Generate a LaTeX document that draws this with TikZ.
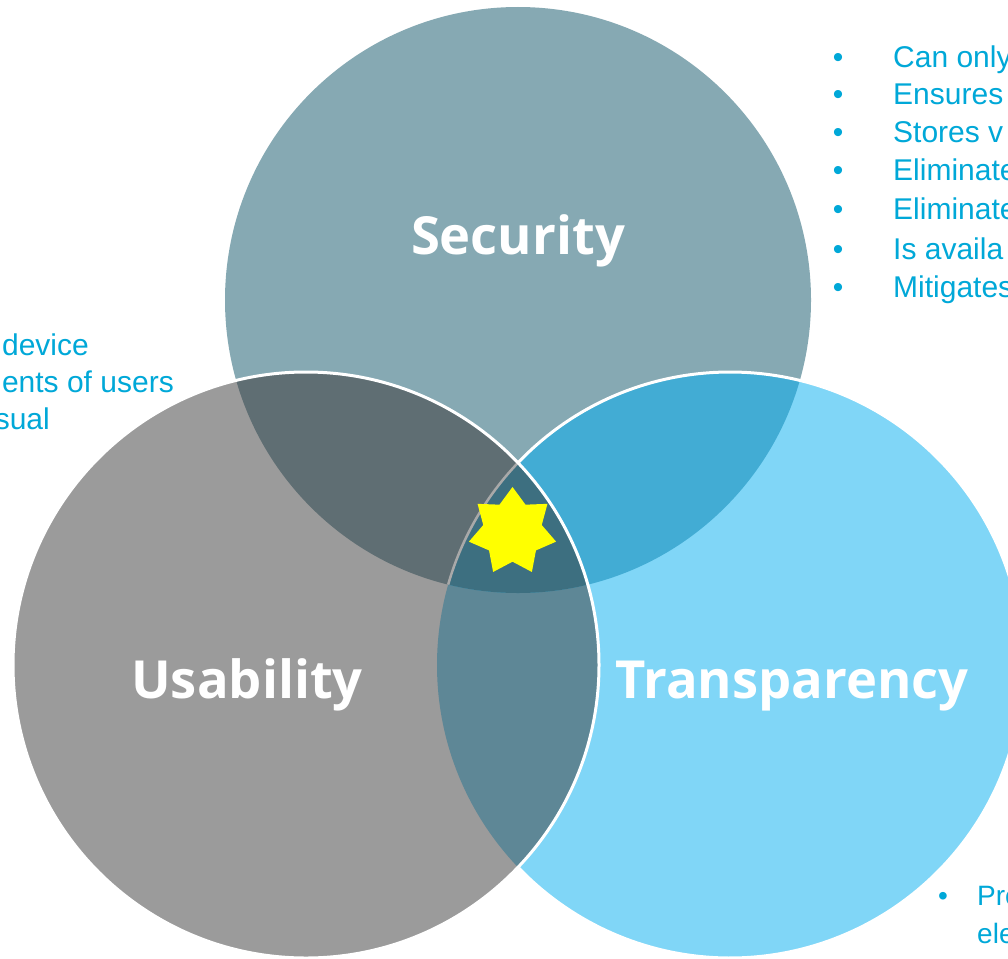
\documentclass[tikz,border=0pt]{standalone}
\usepackage{fontspec}
\setmainfont{Liberation Sans}
\newfontfamily\lblfont{Open Sans}
\definecolor{cS}{HTML}{86A9B3}
\definecolor{cU}{HTML}{9B9B9B}
\definecolor{cT}{HTML}{80D6F7}
\definecolor{cSU}{HTML}{5F6E73}
\definecolor{cST}{HTML}{42ACD4}
\definecolor{cUT}{HTML}{5E8796}
\definecolor{cSUT}{HTML}{3D6F80}
\definecolor{cEdge}{HTML}{A9A9A9}
\definecolor{txt}{HTML}{00A8D8}
\definecolor{starc}{HTML}{FFFF00}
\tikzset{
  lbl/.style={inner sep=0pt, anchor=base, text=white, font=\lblfont\bfseries\fontsize{52.5}{58}\selectfont},
  itemtext/.style={inner sep=0pt, anchor=base west, text=txt, font=\fontsize{30}{36}\selectfont},
  lefttext/.style={inner sep=0pt, anchor=base east, text=txt, font=\fontsize{30}{36}\selectfont},
  smalltext/.style={inner sep=0pt, anchor=base west, text=txt, font=\fontsize{28}{32}\selectfont},
  bul/.style={inner sep=0pt, anchor=base, text=txt, font=\fontsize{30}{36}\selectfont},
  smallbul/.style={inner sep=0pt, anchor=base, text=txt, font=\fontsize{28}{32}\selectfont},
  outline/.style={draw=white, line width=3pt}
}
\begin{document}
\begin{tikzpicture}[x=1pt,y=-1pt]
\useasboundingbox (0,0) rectangle (1008,958);
\clip (0,0) rectangle (1008,958);
\fill[white] (0,0) rectangle (1008,958);
\def\R{293}
\coordinate (cs) at (518,300);
\coordinate (cu) at (306,665);
\coordinate (ct) at (730,665);
% base circles
\fill[cS] (cs) circle[radius=\R];
\fill[cT] (ct) circle[radius=\R];
\fill[cU] (cu) circle[radius=\R];
% pairwise U & T
\begin{scope}
  \clip (cu) circle[radius=\R];
  \fill[cUT] (ct) circle[radius=\R];
\end{scope}
% overlaps with Security
\begin{scope}
  \clip (cs) circle[radius=\R];
  \fill[cSU] (cu) circle[radius=\R];
  \fill[cST] (ct) circle[radius=\R];
  \clip (cu) circle[radius=\R];
  \fill[cSUT] (ct) circle[radius=\R];
\end{scope}
% outlines
\draw[outline] ([shift={(-136.4:\R)}]ct) arc[start angle=-136.4, end angle=136.4, radius=\R];
\begin{scope}
  \clip (cs) circle[radius=\R];
  \clip (cu) circle[radius=\R];
  \draw[draw=cEdge, line width=2.5pt] (ct) circle[radius=\R];
\end{scope}
\draw[outline] (cu) circle[radius=\R];
% star
\fill[starc] plot[samples at={0,...,13}, variable=\k]
  ({512.5+ifthenelse(mod(\k,2)==0,44.7,30)*cos(90+\k*180/7)},
   {531.7-ifthenelse(mod(\k,2)==0,44.7,30)*sin(90+\k*180/7)}) -- cycle;
% labels
\node[lbl] (sec) at (518,254) {Security};
\node[lbl] (usa) at (247,698) {Usability};
\node[lbl] (tra) at (792,698) {Transparency};
% right list
\foreach \i/\yb/\t in {1/67/Can only,2/104/Ensures,3/142/Stores v,4/180/Eliminate,5/219/Eliminate,6/259/Is availa,7/297/Mitigates}{
  \node[bul] (b\i) at (838,\yb) {•};
  \node[itemtext] (r\i) at (893,\yb) {\t};
}
% left text
\node[lefttext] (l1) at (89,355) {device};
\node[lefttext] (l2) at (174,392) {ents of users};
\node[lefttext] (l3) at (50,429) {sual};
% bottom right
\node[smallbul] (bb) at (943,905) {•};
\node[smalltext] (p1) at (977,905) {Pre};
\node[smalltext] (p2) at (977,943) {ele};
\end{tikzpicture}
\end{document}
